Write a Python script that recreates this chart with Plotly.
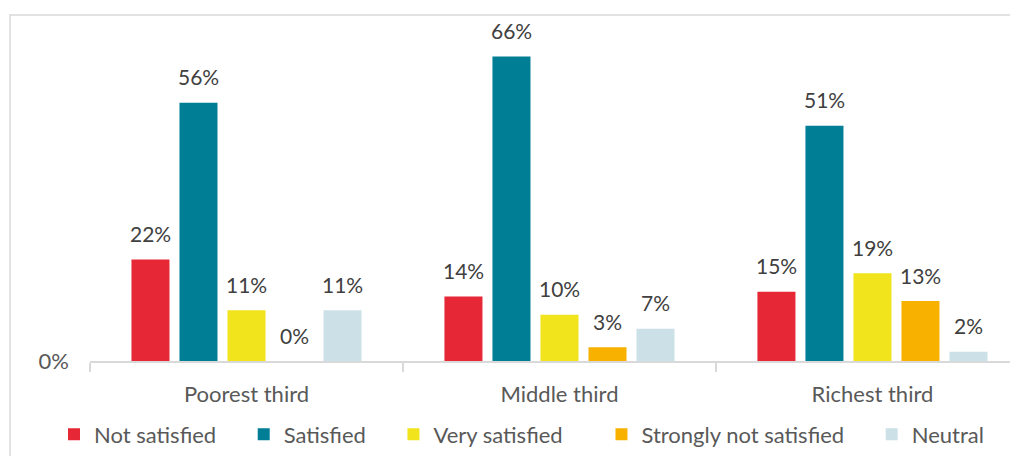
import plotly.graph_objects as go

categories = ["Poorest third", "Middle third", "Richest third"]
series_names = ["Not satisfied", "Satisfied", "Very satisfied", "Strongly not satisfied", "Neutral"]
not_satisfied = [22, 14, 15]
satisfied = [56, 66, 51]
very_satisfied = [11, 10, 19]
strongly_not_satisfied = [0, 3, 13]
neutral = [11, 7, 2]
colors = ["#E52736", "#007E96", "#F1E41C", "#F9B100", "#CBE1E7"]

values = [not_satisfied, satisfied, very_satisfied, strongly_not_satisfied, neutral]

# page body has an 8px default margin; compensate so the chart lands at window coords
OFF = 8
W, H = 1018 - OFF, 456 - OFF
ML, MR, MT, MB = 90 - OFF, 0, 15 - OFF, 93
x_range = [-0.5, 2.465]
bargap = 0.233
bargroupgap = 0.208

plot_w = W - ML - MR
plot_h = H - MT - MB
cat_px = plot_w / (x_range[1] - x_range[0])
slot_px = (1 - bargap) * cat_px / len(series_names)

LABEL = "#404040"
AXIS_TXT = "#595959"
FONT = "Lato"
legend_pads = [4, 4, 6, 4, 4]  # trailing spacing after each legend entry

fig = go.Figure()
for name, vals, col, pad in zip(series_names, values, colors, legend_pads):
    fig.add_trace(go.Bar(name=name + "\u00a0" * pad, x=categories, y=vals,
                         marker=dict(color=col, line=dict(width=0))))

annotations = []
n = len(series_names)
for i, vals in enumerate(values):
    shift = (i - (n - 1) / 2) * slot_px
    for c, v in zip(categories, vals):
        annotations.append(dict(
            x=c, y=v, xref="x", yref="y", text=f"{v}%", showarrow=False,
            xshift=shift, yshift=26, yanchor="middle", xanchor="center",
            font=dict(family=FONT, size=21, color=LABEL)))

# border rectangle (window coords left=10, top=15), extends past right/bottom edges
bx0 = 10 - OFF
by0 = 15 - OFF
plot_bottom = MT + plot_h
legend_left = 54 - OFF
legend_mid = 437 - OFF

fig.update_layout(
    width=W, height=H,
    margin=dict(l=ML, r=MR, t=MT, b=MB),
    paper_bgcolor="white", plot_bgcolor="white",
    barmode="group", bargap=bargap, bargroupgap=bargroupgap,
    font=dict(family=FONT, size=22, color=AXIS_TXT),
    showlegend=True,
    legend=dict(orientation="h",
                x=(legend_left - ML) / plot_w, xanchor="left",
                y=(plot_bottom - legend_mid) / plot_h, yanchor="middle",
                bgcolor="rgba(0,0,0,0)",
                font=dict(family=FONT, size=22, color=AXIS_TXT)),
    annotations=annotations,
    xaxis=dict(type="category", range=x_range, showline=True, linecolor="#D9D9D9", linewidth=1.5,
               ticks="outside", tickson="boundaries", ticklen=9, tickcolor="#D9D9D9", tickwidth=1.5,
               ticklabelstandoff=13, showgrid=False, zeroline=False,
               tickfont=dict(family=FONT, size=22, color=AXIS_TXT)),
    yaxis=dict(range=[0, 75], tickvals=[0], ticktext=["0%"], showgrid=False, zeroline=False,
               showline=False, ticks="", ticklabelstandoff=20,
               tickfont=dict(family=FONT, size=22, color=AXIS_TXT)),
    shapes=[dict(type="rect", xref="paper", yref="paper",
                 x0=(bx0 - ML) / plot_w, x1=(W + 20 - ML) / plot_w,
                 y0=-(H + 20 - plot_bottom) / plot_h, y1=(plot_bottom - by0) / plot_h,
                 line=dict(color="#D9D9D9", width=1.5), fillcolor="rgba(0,0,0,0)", layer="below")],
)

fig.write_html("out.html")
